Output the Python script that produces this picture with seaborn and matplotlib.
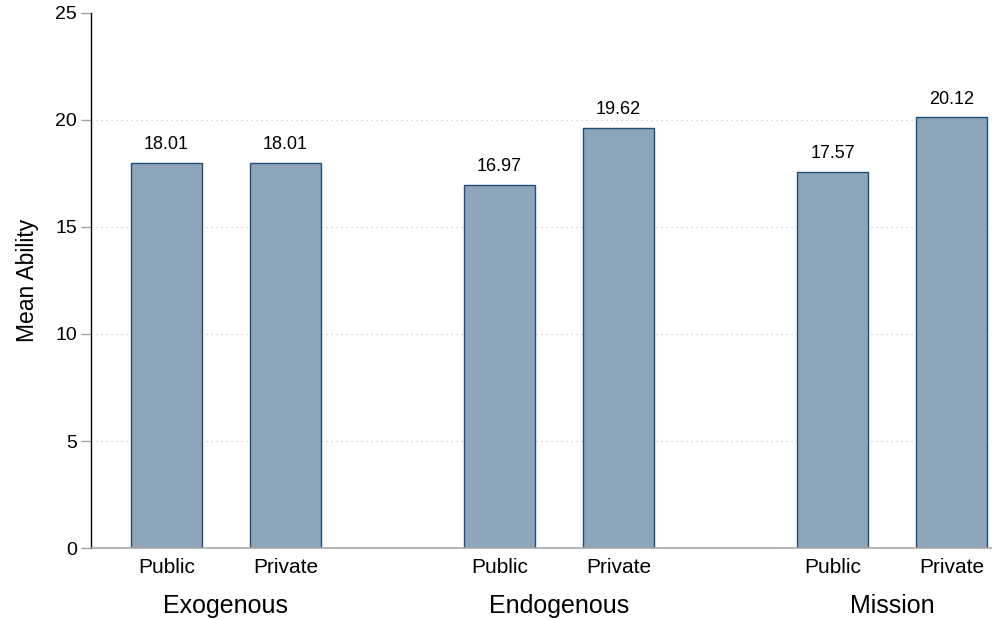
import pandas as pd
import numpy as np
import seaborn as sns
import matplotlib.pyplot as plt
import matplotlib.transforms as mtransforms

groups = ["Exogenous", "Endogenous", "Mission"]
sectors = ["Public", "Private"]
public_vals = [18.01, 16.97, 17.57]
private_vals = [18.01, 19.62, 20.12]

df = pd.DataFrame({
    "group": groups * 2,
    "sector": ["Public"] * 3 + ["Private"] * 3,
    "ability": public_vals + private_vals,
})

sns.set_style("white")
plt.rcParams['font.family'] = ['Liberation Sans', 'DejaVu Sans']
plt.rcParams['text.color'] = 'black'
plt.rcParams['axes.labelcolor'] = 'black'
plt.rcParams['xtick.color'] = 'black'
plt.rcParams['ytick.color'] = 'black'

fig = plt.figure(figsize=(9.92, 6.2), dpi=100)
ax = fig.add_axes([0.0917, 0.1161, 0.9083, 0.863])

sns.barplot(data=df, x="group", y="ability", hue="sector", order=groups, hue_order=sectors,
            palette=["#8ea4b8", "#8ea4b8"], edgecolor="#1f4e79", linewidth=1.0,
            width=0.714, gap=0.403, saturation=1, legend=False, ax=ax)

ax.set_xlim(-0.405, 2.30)
ax.set_ylim(0, 25)
ax.set_yticks([0, 5, 10, 15, 20, 25])

# dotted grid lines (no line at the top)
for yv in [5, 10, 15, 20]:
    ax.axhline(yv, color="#c8c8c8", linestyle=(0, (1, 3)), linewidth=0.9, zorder=0)

for s in ["top", "right"]:
    ax.spines[s].set_visible(False)
ax.spines["left"].set_color("black")
ax.spines["left"].set_linewidth(1.0)
ax.spines["bottom"].set_color("#a8a8a8")
ax.spines["bottom"].set_linewidth(1.2)

ax.tick_params(axis="y", length=7, width=1.0, color="#a0a0a0", labelcolor="black",
               labelsize=14, pad=3, left=True)
ax.tick_params(axis="x", length=0, labelsize=18, labelcolor="black", pad=33)
ax.set_xlabel("")
ax.set_ylabel("Mean Ability", fontsize=16.5, labelpad=12)

trans = mtransforms.blended_transform_factory(ax.transData, ax.transAxes)
for cont, name in zip(ax.containers, sectors):
    ax.bar_label(cont, fmt="%.2f", padding=7, fontsize=13, color="black")
    for bar in cont:
        cx = bar.get_x() + bar.get_width() / 2
        ax.text(cx, -0.018, name, transform=trans, ha="center", va="top", fontsize=15)

fig.savefig("out.png", dpi=100)
